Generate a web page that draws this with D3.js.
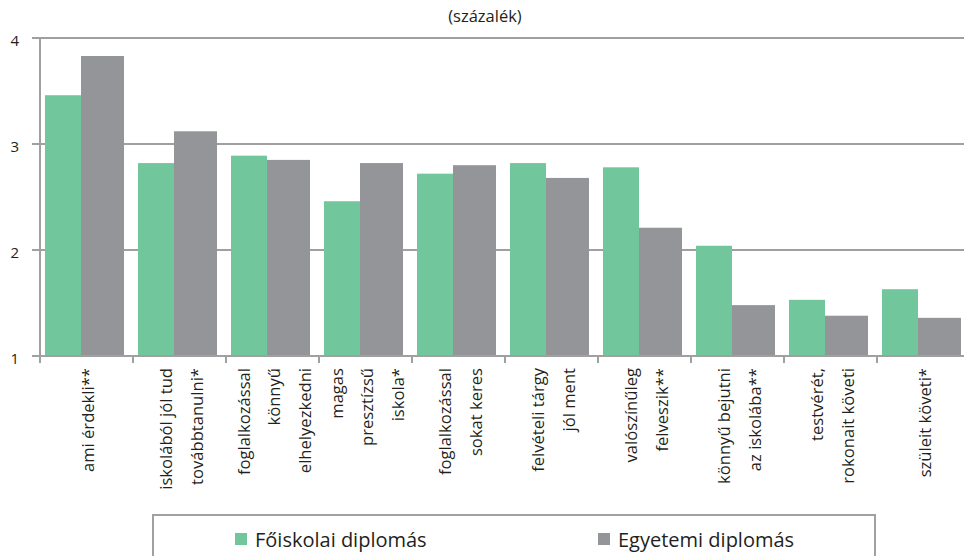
<!DOCTYPE html>
<html><head><meta charset="utf-8">
<script src="https://cdn.jsdelivr.net/npm/d3@7"></script>
<style>
html,body{margin:0;padding:0;background:#fff;}
svg{display:block;font-family:"Open Sans",sans-serif;}
</style></head>
<body><svg id="c" width="964" height="556"></svg>
<script>
const title = "(százalék)";
const categories = [
  ["ami érdekli**"],
  ["iskolából jól tud","továbbtanulni*"],
  ["foglalkozással","könnyű","elhelyezkedni"],
  ["magas","presztízsű","iskola*"],
  ["foglalkozással","sokat keres"],
  ["felvételi tárgy","jól ment"],
  ["valószínűleg","felveszik**"],
  ["könnyű bejutni","az iskolába**"],
  ["testvérét,","rokonait követi"],
  ["szüleit követi*"]
];
const foiskolai = [3.46, 2.82, 2.89, 2.46, 2.72, 2.82, 2.78, 2.04, 1.53, 1.63];
const egyetemi  = [3.83, 3.12, 2.85, 2.82, 2.80, 2.68, 2.21, 1.48, 1.38, 1.36];
const seriesNames = ["Főiskolai diplomás","Egyetemi diplomás"];
const seriesColors = ["#72c69b","#949599"];
const yTicks = [1,2,3,4];

const svg = d3.select("#c");
const textColor = "#231f20";
const gridColor = "#a0a0a0";

const x = d3.scaleBand().domain(d3.range(categories.length)).range([40, 970]).padding(0);
const y = d3.scaleLinear().domain([1,4]).range([356, 38]);
const bw = x.bandwidth();

// title
svg.append("text").attr("x", 485).attr("y", 22).attr("text-anchor","middle")
  .attr("font-size", 16.5).attr("fill", textColor).text(title);

// gridlines
svg.append("g").selectAll("line").data(yTicks.filter(t=>t>1)).join("line")
  .attr("x1", 32).attr("x2", 964).attr("y1", d=>y(d)).attr("y2", d=>y(d))
  .attr("stroke", gridColor).attr("stroke-width", 2);

// y labels
svg.append("g").selectAll("text").data(yTicks).join("text")
  .attr("x", 19).attr("y", d=>y(d)+8).attr("text-anchor","end")
  .attr("font-size", 15).attr("fill", textColor).text(d=>d);

// bars
const g = svg.append("g");
g.selectAll("rect.f").data(foiskolai).join("rect").attr("class","f")
  .attr("x", (d,i)=>x(i)+bw*5/93).attr("width", bw*36/93)
  .attr("y", d=>y(d)).attr("height", d=>y(1)-y(d)).attr("fill", seriesColors[0]);
g.selectAll("rect.e").data(egyetemi).join("rect").attr("class","e")
  .attr("x", (d,i)=>x(i)+bw*41/93).attr("width", bw*43/93)
  .attr("y", d=>y(d)).attr("height", d=>y(1)-y(d)).attr("fill", seriesColors[1]);

// axes
svg.append("line").attr("x1",40).attr("x2",40).attr("y1",y(4)-1).attr("y2",363)
  .attr("stroke",gridColor).attr("stroke-width",2);
svg.append("line").attr("x1",32).attr("x2",964).attr("y1",y(1)).attr("y2",y(1))
  .attr("stroke",gridColor).attr("stroke-width",2);
svg.append("line").attr("x1",32).attr("x2",40).attr("y1",y(4)).attr("y2",y(4))
  .attr("stroke",gridColor).attr("stroke-width",2);
svg.append("g").selectAll("line").data(d3.range(categories.length+1)).join("line")
  .attr("x1", i=>40+i*bw).attr("x2", i=>40+i*bw).attr("y1", y(1)).attr("y2", 363)
  .attr("stroke", gridColor).attr("stroke-width", 2);

// category labels
const lineGap = 30.5;
categories.forEach((lines, i) => {
  const cx = x(i) + bw/2 + 3;
  const n = lines.length;
  lines.forEach((t, j) => {
    const lx = cx + (j - (n-1)/2) * lineGap;
    svg.append("text")
      .attr("transform", `translate(${lx},368) rotate(-90)`)
      .attr("text-anchor","end").attr("dy","0.3em")
      .attr("font-size", 16.6).attr("fill", textColor).text(t);
  });
});

// legend
svg.append("rect").attr("x",153).attr("y",515).attr("width",722).attr("height",60)
  .attr("fill","none").attr("stroke",gridColor).attr("stroke-width",2);
const legX = [235, 598];
seriesNames.forEach((name, i) => {
  svg.append("rect").attr("x", legX[i]).attr("y", 533).attr("width", 12).attr("height", 12)
    .attr("fill", seriesColors[i]);
  svg.append("text").attr("x", legX[i]+20).attr("y", 547)
    .attr("font-size", 20).attr("fill", textColor).text(name);
});
</script></body></html>
